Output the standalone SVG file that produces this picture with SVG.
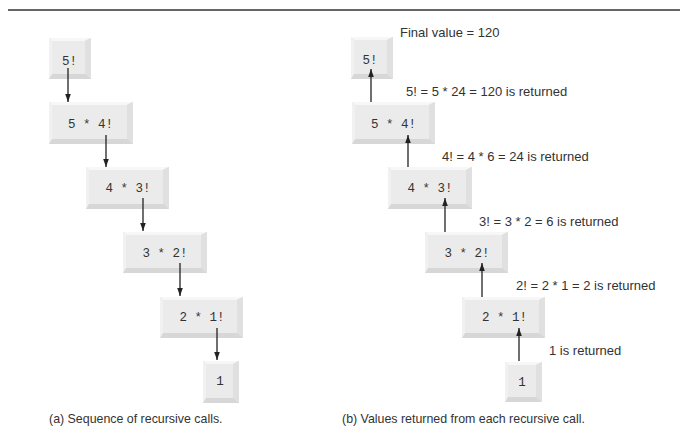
<svg xmlns="http://www.w3.org/2000/svg" width="680" height="429" viewBox="0 0 680 429">
<style>
.base{fill:#d7d7d7}
.top{fill:#f7f7f7}
.left{fill:#f1f1f1}
.right{fill:#e0e0e0}
.face{fill:#ebebeb}
.code{font-family:"Liberation Mono","DejaVu Sans Mono",monospace;font-size:12.5px;fill:#333;text-anchor:middle}
.lbl{font-family:"Liberation Sans",Arial,sans-serif;font-size:13px;fill:#333}
.cap{font-family:"Liberation Sans",Arial,sans-serif;font-size:12.4px;fill:#333}
.conn{stroke:#222;stroke-width:1.3;fill:none;marker-end:url(#ah)}
</style>
<defs>
<marker id="ah" markerUnits="userSpaceOnUse" markerWidth="8" markerHeight="11" refX="10" refY="3.5" orient="auto" viewBox="0 0 10 7">
<path d="M0,0 L10,3.5 L0,7 Z" fill="#222"/>
</marker>
</defs>
<rect width="680" height="429" fill="#fff"/>
<line x1="8" y1="10" x2="680" y2="10" stroke="#666" stroke-width="2"/>

<g id="a1">
<rect class="base" x="49" y="38" width="42" height="41"/>
<polygon class="top" points="49,38 91,38 85,41 52,41"/>
<polygon class="left" points="49,38 52,41 52,74 49,79"/>
<polygon class="right" points="91,38 91,79 85,74 85,41"/>
<rect class="face" x="52" y="41" width="33" height="33"/>
<text class="code" x="69.5" y="65">5!</text>
</g>
<g id="a2">
<rect class="base" x="49" y="102" width="84" height="42"/>
<polygon class="top" points="49,102 133,102 127,105 52,105"/>
<polygon class="left" points="49,102 52,105 52,139 49,144"/>
<polygon class="right" points="133,102 133,144 127,139 127,105"/>
<rect class="face" x="52" y="105" width="75" height="34"/>
<text class="code" x="90.5" y="128">5 * 4!</text>
</g>
<g id="a3">
<rect class="base" x="86" y="167" width="83" height="42"/>
<polygon class="top" points="86,167 169,167 163,170 89,170"/>
<polygon class="left" points="86,167 89,170 89,204 86,209"/>
<polygon class="right" points="169,167 169,209 163,204 163,170"/>
<rect class="face" x="89" y="170" width="74" height="34"/>
<text class="code" x="128" y="192">4 * 3!</text>
</g>
<g id="a4">
<rect class="base" x="123" y="232" width="84" height="41"/>
<polygon class="top" points="123,232 207,232 201,235 126,235"/>
<polygon class="left" points="123,232 126,235 126,268 123,273"/>
<polygon class="right" points="207,232 207,273 201,268 201,235"/>
<rect class="face" x="126" y="235" width="75" height="33"/>
<text class="code" x="165" y="257">3 * 2!</text>
</g>
<g id="a5">
<rect class="base" x="160" y="297" width="83" height="41"/>
<polygon class="top" points="160,297 243,297 237,300 163,300"/>
<polygon class="left" points="160,297 163,300 163,333 160,338"/>
<polygon class="right" points="243,297 243,338 237,333 237,300"/>
<rect class="face" x="163" y="300" width="74" height="33"/>
<text class="code" x="202" y="321">2 * 1!</text>
</g>
<g id="a6">
<rect class="base" x="203" y="361" width="36" height="42"/>
<polygon class="top" points="203,361 239,361 233,364 206,364"/>
<polygon class="left" points="203,361 206,364 206,398 203,403"/>
<polygon class="right" points="239,361 239,403 233,398 233,364"/>
<rect class="face" x="206" y="364" width="27" height="34"/>
<text class="code" x="220" y="385">1</text>
</g>

<g id="b1">
<rect class="base" x="351" y="37" width="42" height="42"/>
<polygon class="top" points="351,37 393,37 387,40 354,40"/>
<polygon class="left" points="351,37 354,40 354,74 351,79"/>
<polygon class="right" points="393,37 393,79 387,74 387,40"/>
<rect class="face" x="354" y="40" width="33" height="34"/>
<text class="code" x="370" y="64">5!</text>
</g>
<g id="b2">
<rect class="base" x="352" y="102" width="83" height="42"/>
<polygon class="top" points="352,102 435,102 429,105 355,105"/>
<polygon class="left" points="352,102 355,105 355,139 352,144"/>
<polygon class="right" points="435,102 435,144 429,139 429,105"/>
<rect class="face" x="355" y="105" width="74" height="34"/>
<text class="code" x="393.5" y="128">5 * 4!</text>
</g>
<g id="b3">
<rect class="base" x="388" y="167" width="84" height="42"/>
<polygon class="top" points="388,167 472,167 466,170 391,170"/>
<polygon class="left" points="388,167 391,170 391,204 388,209"/>
<polygon class="right" points="472,167 472,209 466,204 466,170"/>
<rect class="face" x="391" y="170" width="75" height="34"/>
<text class="code" x="430" y="192">4 * 3!</text>
</g>
<g id="b4">
<rect class="base" x="425" y="232" width="83" height="41"/>
<polygon class="top" points="425,232 508,232 502,235 428,235"/>
<polygon class="left" points="425,232 428,235 428,268 425,273"/>
<polygon class="right" points="508,232 508,273 502,268 502,235"/>
<rect class="face" x="428" y="235" width="74" height="33"/>
<text class="code" x="467" y="257">3 * 2!</text>
</g>
<g id="b5">
<rect class="base" x="462" y="297" width="83" height="41"/>
<polygon class="top" points="462,297 545,297 539,300 465,300"/>
<polygon class="left" points="462,297 465,300 465,333 462,338"/>
<polygon class="right" points="545,297 545,338 539,333 539,300"/>
<rect class="face" x="465" y="300" width="74" height="33"/>
<text class="code" x="504.5" y="321">2 * 1!</text>
</g>
<g id="b6">
<rect class="base" x="505" y="362" width="37" height="40"/>
<polygon class="top" points="505,362 542,362 536,365 508,365"/>
<polygon class="left" points="505,362 508,365 508,397 505,402"/>
<polygon class="right" points="542,362 542,402 536,397 536,365"/>
<rect class="face" x="508" y="365" width="28" height="32"/>
<text class="code" x="522" y="386">1</text>
</g>

<g id="connectors">
<path class="conn" d="M68,68 V102"/>
<path class="conn" d="M106,135 V167"/>
<path class="conn" d="M143,198 V231"/>
<path class="conn" d="M180,263 V296"/>
<path class="conn" d="M217,328 V360"/>
<path class="conn" d="M371,102 V69"/>
<path class="conn" d="M408,167 V135"/>
<path class="conn" d="M445,232 V198"/>
<path class="conn" d="M482,297 V263"/>
<path class="conn" d="M519,361 V328"/>
</g>

<g id="labels">
<text class="lbl" x="400" y="37">Final value = 120</text>
<text class="lbl" x="406" y="96">5! = 5 * 24 = 120 is returned</text>
<text class="lbl" x="442" y="161">4! = 4 * 6 = 24 is returned</text>
<text class="lbl" x="479" y="226">3! = 3 * 2 = 6 is returned</text>
<text class="lbl" x="516" y="290">2! = 2 * 1 = 2 is returned</text>
<text class="lbl" x="549" y="355">1 is returned</text>
<text class="cap" x="49" y="423">(a) Sequence of recursive calls.</text>
<text class="cap" x="342" y="423">(b) Values returned from each recursive call.</text>
</g>
</svg>
